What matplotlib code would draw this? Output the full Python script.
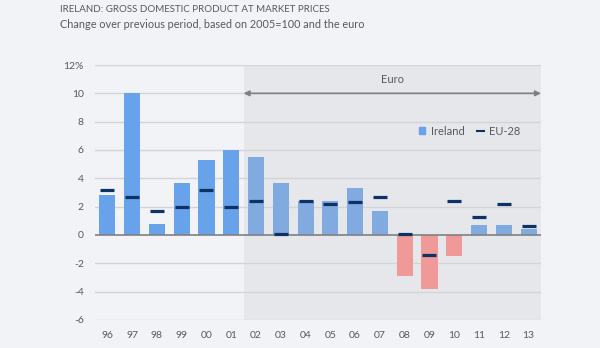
import matplotlib
matplotlib.use("Agg")
import matplotlib.pyplot as plt
import numpy as np
from matplotlib.lines import Line2D
from matplotlib.patches import Patch

plt.rcParams['font.family'] = ['Lato', 'DejaVu Sans']

years = ["96", "97", "98", "99", "00", "01", "02", "03", "04", "05", "06",
         "07", "08", "09", "10", "11", "12", "13"]
ireland = [2.8, 10.0, 0.8, 3.7, 5.3, 6.0, 5.5, 3.7, 2.4, 2.4, 3.3,
           1.7, -2.9, -3.8, -1.5, 0.7, 0.7, 0.4]
eu28 = [3.2, 2.7, 1.7, 2.0, 3.2, 2.0, 2.4, 0.1, 2.4, 2.2, 2.3,
        2.7, 0.1, -1.4, 2.4, 1.3, 2.2, 0.6]
euro_start = "02"
y_ticks = [-6, -4, -2, 0, 2, 4, 6, 8, 10, 12]

bg = "#F2F3F7"
shade = "#E6E7EA"
grid_c = "#D3D4D8"
text_c = "#595959"
c_pre = "#67A2EA"
c_euro = "#80AAE0"
c_neg = "#EF9A98"
c_eu = "#0D3366"

fig = plt.figure(figsize=(6, 3.48), dpi=100, facecolor=bg)
ax = fig.add_axes([0.1583, 0.0805, 0.7433, 0.7327])
ax.set_facecolor(bg)

x = np.arange(len(years))
start = years.index(euro_start)
colors = []
for i, v in enumerate(ireland):
    if v < 0:
        colors.append(c_neg)
    elif i >= start:
        colors.append(c_euro)
    else:
        colors.append(c_pre)

ax.set_xlim(-0.5, len(years) - 0.5)
ax.set_ylim(-6, 12)

# euro period shading
ax.axvspan(start - 0.5, len(years) - 0.5, color=shade, zorder=0, lw=0)

for t in y_ticks:
    if t != 0:
        ax.axhline(t, color=grid_c, lw=1, zorder=1)

ax.bar(x, ireland, width=0.65, color=colors, zorder=2, label="Ireland")
ax.axhline(0, color="#808080", lw=1.2, zorder=3)
ax.scatter(x, eu28, marker="_", s=90, linewidths=2.3, color=c_eu, zorder=4,
           label="EU-28")

# euro arrow
ax.annotate("", xy=(len(years) - 0.5, 10), xytext=(start - 0.5, 10),
            arrowprops=dict(arrowstyle="<|-|>", color="#7F7F7F", lw=1.2,
                            mutation_scale=8, shrinkA=0, shrinkB=0), zorder=3)
ax.text((start - 0.5 + len(years) - 0.5) / 2, 10.95, "Euro", ha="center",
        va="center", fontsize=8, color=text_c)

for s in ax.spines.values():
    s.set_visible(False)
ax.set_xticks(x)
ax.set_xticklabels(years)
ax.set_yticks(y_ticks)
ax.set_yticklabels([f"{t}%" if t == 12 else str(t) for t in y_ticks])
ax.tick_params(length=0, labelsize=7.5, colors=text_c)
ax.tick_params(axis='x', pad=8)
ax.tick_params(axis='y', pad=8)

# legend
handles = [Patch(color=c_pre, label="Ireland"),
           Line2D([], [], color=c_eu, lw=1.5, label="EU-28")]
leg = ax.legend(handles=handles, loc="center", bbox_to_anchor=(0.84, 0.74),
                ncol=2, frameon=False, fontsize=8, handlelength=0.6,
                handleheight=0.6, columnspacing=1.1, handletextpad=0.5,
                labelcolor=text_c)

fig.text(60 / 600, 1 - 9 / 348, "IRELAND: GROSS DOMESTIC PRODUCT AT MARKET PRICES",
         fontsize=7, color=text_c, va="center", ha="left")
fig.text(60 / 600, 1 - 25 / 348,
         "Change over previous period, based on 2005=100 and the euro",
         fontsize=7.8, color=text_c, va="center", ha="left")

fig.savefig("out.png", dpi=100, facecolor=bg)
